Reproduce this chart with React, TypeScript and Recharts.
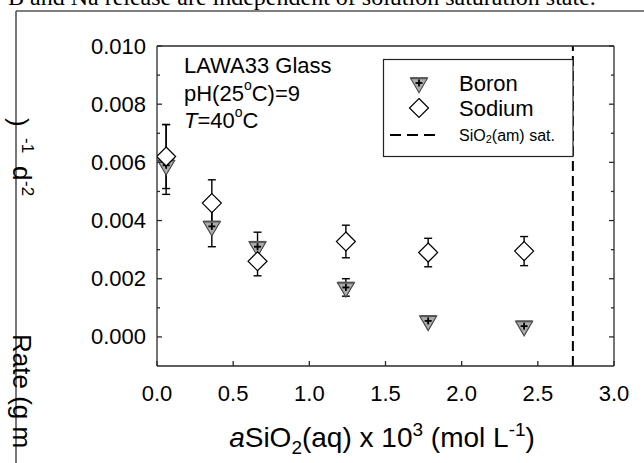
import React from 'react';
import { ComposedChart, Scatter, XAxis, YAxis, ErrorBar, ReferenceLine } from 'recharts';

// ---- data ----
const silica = [0.06, 0.36, 0.66, 1.24, 1.78, 2.41];
const boronRate = [0.0059, 0.0038, 0.0031, 0.0017, 0.00055, 0.00037];
const boronErr = [[0.001, 0.0014], [0.0007, 0.0007], [0.0005, 0.0005], [0.0003, 0.0003], [0.0001, 0.0001], [0.0001, 0.0001]];
const sodiumRate = [0.0062, 0.0046, 0.0026, 0.00328, 0.0029, 0.00295];
const sodiumErr = [0.0011, 0.0008, 0.0005, 0.00056, 0.00049, 0.0005];
const xTicks = [0, 0.5, 1.0, 1.5, 2.0, 2.5, 3.0];
const yTicks = [0, 0.001, 0.002, 0.003, 0.004, 0.005, 0.006, 0.007, 0.008, 0.009, 0.01];
const xDomain = [0, 3];
const yDomain = [-0.001, 0.01];
const satSilica = 2.73;

const boronData = silica.map((x, i) => ({ x, rate: boronRate[i], err: boronErr[i] }));
const sodiumData = silica.map((x, i) => ({ x, rate: sodiumRate[i], err: sodiumErr[i] }));

const FONT = '"Liberation Sans", Arial, Helvetica, sans-serif';
const AXIS = '#2a2a2a';

const isMajor = (v: number) => Math.round(v * 1000) % 2 === 0;

const LeftTick = (props: any) => {
  const { x, y, payload } = props;
  const ax = x + 11;
  const major = isMajor(payload.value);
  return (
    <g>
      <line x1={ax} x2={ax + (major ? 5 : 3)} y1={y} y2={y} stroke={AXIS} strokeWidth={1.3} />
      {major && (
        <text x={x} y={y} textAnchor="end" dominantBaseline="central" fontFamily={FONT} fontSize={22} fill="#000">
          {payload.value.toFixed(3)}
        </text>
      )}
    </g>
  );
};

const RightTick = (props: any) => {
  const { x, y, payload } = props;
  const major = isMajor(payload.value);
  return <line x1={x} x2={x - (major ? 5 : 3)} y1={y} y2={y} stroke={AXIS} strokeWidth={1.3} />;
};

const BottomTick = (props: any) => {
  const { x, y, payload } = props;
  const ay = y - 19;
  return (
    <g>
      <line x1={x} x2={x} y1={ay} y2={ay - 5} stroke={AXIS} strokeWidth={1.3} />
      <text x={x} y={ay + 27} textAnchor="middle" dominantBaseline="central" fontFamily={FONT} fontSize={22} fill="#000">
        {payload.value.toFixed(1)}
      </text>
    </g>
  );
};

const TopTick = (props: any) => {
  const { x, y } = props;
  return <line x1={x} x2={x} y1={y} y2={y + 5} stroke={AXIS} strokeWidth={1.3} />;
};

const Triangle = ({ cx, cy }: any) => {
  if (cx == null || cy == null) return null;
  const h = 14.5;
  const hw = 8.5;
  const top = cy - h / 3;
  const tip = cy + (2 * h) / 3;
  return (
    <g>
      <polygon points={`${cx - hw},${top} ${cx + hw},${top} ${cx},${tip}`} fill="#ababab" stroke="#444" strokeWidth={1.1} />
      <line x1={cx - hw} x2={cx + hw} y1={top} y2={top} stroke="#555" strokeWidth={2} />
      <line x1={cx - 3.5} x2={cx + 3.5} y1={cy} y2={cy} stroke="#000" strokeWidth={1.8} />
      <line x1={cx} x2={cx} y1={cy - 3.5} y2={cy + 3.5} stroke="#000" strokeWidth={1.8} />
    </g>
  );
};

const Diamond = ({ cx, cy }: any) => {
  if (cx == null || cy == null) return null;
  const r = 9.5;
  return (
    <polygon points={`${cx},${cy - r} ${cx + r},${cy} ${cx},${cy + r} ${cx - r},${cy}`} fill="#fff" stroke="#000" strokeWidth={1.2} />
  );
};

export default function App() {
  return (
    <div style={{ position: 'absolute', left: 0, top: 0, width: 644, height: 463, background: '#fff', overflow: 'hidden' }}>
      <ComposedChart width={644} height={463} margin={{ top: 0, right: 0, bottom: 0, left: 0 }}>
        <XAxis
          xAxisId={0}
          type="number"
          dataKey="x"
          domain={xDomain}
          ticks={xTicks}
          interval={0}
          allowDataOverflow
          height={97}
          tickSize={0}
          tickMargin={19}
          tickLine={false}
          tick={<BottomTick />}
          axisLine={{ stroke: AXIS, strokeWidth: 1.5 }}
        />
        <XAxis
          xAxisId="t"
          orientation="top"
          type="number"
          domain={xDomain}
          ticks={xTicks}
          interval={0}
          allowDataOverflow
          height={46}
          tickSize={0}
          tickMargin={0}
          tickLine={false}
          tick={<TopTick />}
          axisLine={{ stroke: AXIS, strokeWidth: 1.3 }}
        />
        <YAxis
          yAxisId={0}
          type="number"
          domain={yDomain}
          ticks={yTicks}
          interval={0}
          allowDataOverflow
          width={157}
          tickSize={0}
          tickMargin={11}
          tickLine={false}
          tick={<LeftTick />}
          axisLine={{ stroke: AXIS, strokeWidth: 1.3 }}
        />
        <YAxis
          yAxisId="r"
          orientation="right"
          type="number"
          domain={yDomain}
          ticks={yTicks}
          interval={0}
          allowDataOverflow
          width={30}
          tickSize={0}
          tickMargin={0}
          tickLine={false}
          tick={<RightTick />}
          axisLine={{ stroke: AXIS, strokeWidth: 1.3 }}
        />
        <ReferenceLine x={satSilica} stroke="#000" strokeWidth={2} strokeDasharray="10 5" />
        <Scatter name="Boron" data={boronData} dataKey="rate" shape={<Triangle />} isAnimationActive={false}>
          <ErrorBar dataKey="err" direction="y" width={4} stroke="#000" strokeWidth={1.4} />
        </Scatter>
        <Scatter name="Sodium" data={sodiumData} dataKey="rate" shape={<Diamond />} isAnimationActive={false}>
          <ErrorBar dataKey="err" direction="y" width={4} stroke="#000" strokeWidth={1.4} />
        </Scatter>
      </ComposedChart>
      <svg width={644} height={463} style={{ position: 'absolute', left: 0, top: 0, pointerEvents: 'none' }}>
        {/* page fragment */}
        <text x={8} y={5} fontFamily='"Liberation Serif", "Times New Roman", serif' fontSize={24} fill="#000">
          B and Na release are independent of solution saturation state.
        </text>
        <line x1={16} y1={11} x2={644} y2={11} stroke="#555" strokeWidth={1.6} />
        <line x1={16} y1={11} x2={16} y2={463} stroke="#555" strokeWidth={1.6} />

        {/* y label fragments */}
        <g fontFamily={FONT} fill="#000">
          <text x={13} y={334} fontSize={26} transform="rotate(90, 13, 334)">Rate (g m</text>
          <text x={10} y={118} fontSize={26} transform="rotate(90, 10, 118)">)</text>
          <text x={22} y={138} fontSize={17} transform="rotate(90, 22, 138)">-1</text>
          <text x={13} y={166} fontSize={26} transform="rotate(90, 13, 166)">d</text>
          <text x={22} y={181} fontSize={17} transform="rotate(90, 22, 181)">-2</text>
        </g>

        {/* annotations */}
        <g fontFamily={FONT} fontSize={22} fill="#000">
          <text x={184} y={65} dominantBaseline="central">LAWA33 Glass</text>
          <text x={184} y={93} dominantBaseline="central">
            pH(25<tspan fontSize={14} dy={-8}>o</tspan>
            <tspan dy={8}>C)=9</tspan>
          </text>
          <text x={184} y={120} dominantBaseline="central">
            <tspan fontStyle="italic">T</tspan>=40<tspan fontSize={14} dy={-8}>o</tspan>
            <tspan dy={8}>C</tspan>
          </text>
        </g>

        {/* legend */}
        <rect x={383.5} y={59.5} width={189.5} height={97} fill="#fff" stroke="#222" strokeWidth={1.2} />
        <Triangle cx={419} cy={83} />
        <Diamond cx={419} cy={108} />
        <line x1={390} x2={441} y1={135} y2={135} stroke="#000" strokeWidth={2} strokeDasharray="11 6" />
        <g fontFamily={FONT} fill="#000">
          <text x={459} y={83} fontSize={22} dominantBaseline="central">Boron</text>
          <text x={459} y={108} fontSize={22} dominantBaseline="central">Sodium</text>
          <text x={459} y={135} fontSize={16} dominantBaseline="central">
            SiO<tspan fontSize={11} dy={4}>2</tspan>
            <tspan dy={-4}>(am) sat.</tspan>
          </text>
        </g>

        {/* x label */}
        <text x={382} y={447} textAnchor="middle" fontFamily={FONT} fontSize={28} fill="#000">
          <tspan fontStyle="italic">a</tspan>SiO<tspan fontSize={19} dy={7}>2</tspan>
          <tspan dy={-7}>(aq) x 10</tspan>
          <tspan fontSize={19} dy={-11}>3</tspan>
          <tspan dy={11}> (mol L</tspan>
          <tspan fontSize={19} dy={-11}>-1</tspan>
          <tspan dy={11}>)</tspan>
        </text>
      </svg>
    </div>
  );
}
